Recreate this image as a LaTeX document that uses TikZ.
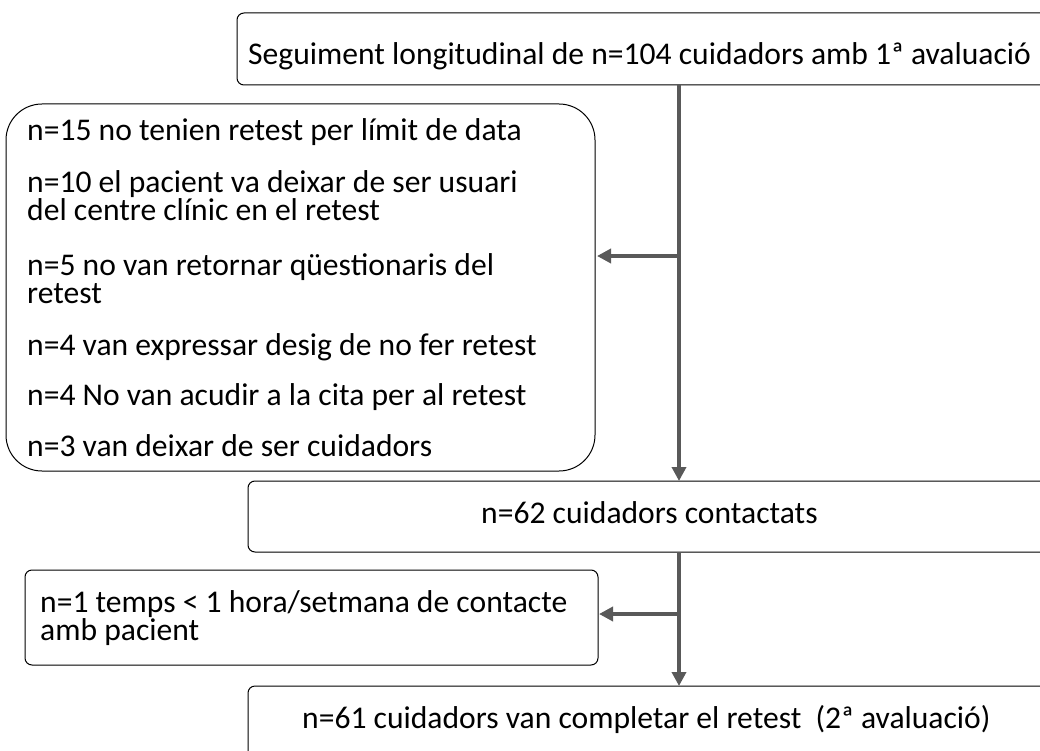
\documentclass[tikz,border=0pt]{standalone}
\usepackage{fontspec}
\setmainfont{Carlito}
\usetikzlibrary{arrows.meta}
\begin{document}
\begin{tikzpicture}[x=1pt,y=-1pt,
  box/.style={draw=black,line width=1pt,rounded corners=7pt,fill=white},
  bigbox/.style={draw=black,line width=1pt,rounded corners=36pt,fill=white},
  txt/.style={inner sep=0pt,anchor=base west,align=left,font=\fontsize{31.6}{28}\selectfont},
  conn/.style={draw={rgb,255:red,89;green,89;blue,89},line width=4.5pt},
  arr/.style={conn,-{Triangle[length=14pt,width=14pt]}}]
\useasboundingbox (0,0) rectangle (1040,751);
% boxes
\draw[box] (237,13) rectangle (1060,85);
\coordinate (topS) at (679,85);
\draw[bigbox] (6,104) rectangle (595,471);
\coordinate (left1E) at (597,256);
\draw[box] (248,481) rectangle (1060,552);
\coordinate (box2N) at (679,481);
\coordinate (box2S) at (679,552);
\draw[box] (25,570) rectangle (598,665);
\coordinate (left2E) at (599,614);
\draw[box] (248,686) rectangle (1060,770);
\coordinate (box3N) at (679,686);
% texts (multi-line nodes are placed by the baseline of their last line)
\node[txt] (t0) at (248,65) {Seguiment longitudinal de n=104 cuidadors amb 1ª avaluació};
\node[txt] (l1) at (27,141) {n=15 no tenien retest per límit de data};
\node[txt] (l2) at (27,221) {n=10 el pacient va deixar de ser usuari\\del centre clínic en el retest};
\node[txt] (l3) at (27,303) {n=5 no van retornar qüestionaris del\\retest};
\node[txt] (l4) at (27,355) {n=4 van expressar desig de no fer retest};
\node[txt] (l5) at (27,405) {n=4 No van acudir a la cita per al retest};
\node[txt] (l6) at (27,456) {n=3 van deixar de ser cuidadors};
\node[txt] (t2) at (481,523) {n=62 cuidadors contactats};
\node[txt] (m1) at (40,640) {n=1 temps < 1 hora/setmana de contacte\\amb pacient};
\node[txt] (t3) at (302,728) {n=61 cuidadors van completar el retest\ \ (2ª avaluació)};
% connectors
\coordinate (j1) at (679,256);
\coordinate (j2) at (679,614);
\draw[arr] (topS) -- (box2N);
\draw[arr] (j1) -- (left1E);
\draw[arr] (box2S) -- (box3N);
\draw[arr] (j2) -- (left2E);
\end{tikzpicture}
\end{document}
